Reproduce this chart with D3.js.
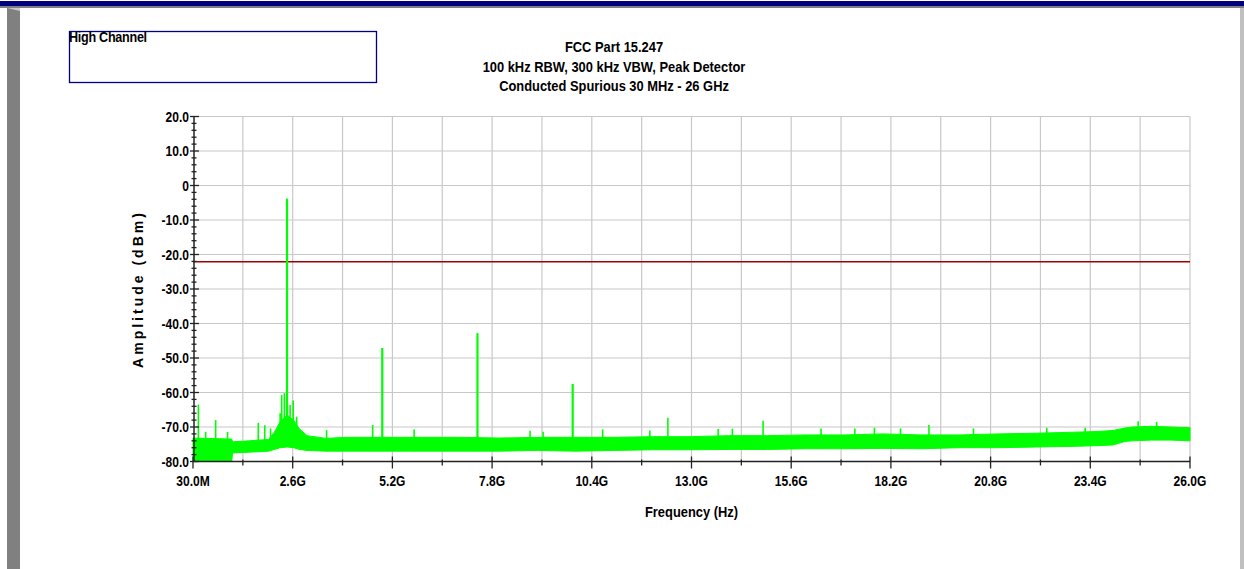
<!DOCTYPE html>
<html>
<head>
<meta charset="utf-8">
<script src="https://cdn.jsdelivr.net/npm/d3@7"></script>
<style>
body { margin: 0; background: #fff; overflow: hidden; }
text { font-family: "Liberation Sans", Arial, sans-serif; font-weight: bold; fill: #000; }
</style>
</head>
<body>
<div id="chart"></div>
<script>
// ---- data ----
var titleLines = ["FCC Part 15.247", "100 kHz RBW, 300 kHz VBW, Peak Detector", "Conducted Spurious 30 MHz - 26 GHz"];
var legendLabel = "High Channel";

// frequency axis in GHz
var fStart = 0.03, fStop = 26.0;
var xLabels = ["30.0M", "2.6G", "5.2G", "7.8G", "10.4G", "13.0G", "15.6G", "18.2G", "20.8G", "23.4G", "26.0G"];
var yTicks = [20, 10, 0, -10, -20, -30, -40, -50, -60, -70, -80];
var limitLevel = -22.1;

// noise floor envelope (dBm)
var envFreq = [0.03, 1.04, 1.06, 1.5, 2.0, 2.15, 2.3, 2.48, 2.65, 2.8, 3.0, 3.5, 4.0, 5.0, 6.0, 7.0, 8.0, 9.0, 10.0, 11.0, 12.0, 13.0, 14.0, 15.0, 16.0, 17.0, 18.0, 19.0, 20.0, 21.0, 22.0, 23.0, 23.6, 24.0, 24.3, 24.5, 25.0, 25.5, 26.0];
var envTop = [-73.2, -73.5, -74.3, -74.0, -73.6, -71.5, -68.5, -66.5, -68.0, -70.5, -72.5, -73.3, -73.0, -73.0, -73.0, -73.0, -73.2, -73.0, -73.0, -73.0, -72.8, -72.8, -72.5, -72.5, -72.3, -72.3, -72.0, -72.3, -72.3, -72.0, -71.8, -71.5, -71.3, -71.0, -70.3, -70.0, -69.8, -70.0, -70.2];
var envBot = [-80, -80, -77.5, -77.3, -77.0, -76.5, -76.0, -75.8, -76.0, -76.5, -76.8, -77.0, -77.0, -77.0, -77.0, -77.0, -77.0, -76.8, -77.0, -76.8, -76.6, -76.6, -76.5, -76.5, -76.3, -76.3, -76.2, -76.3, -76.0, -76.0, -75.8, -75.6, -75.4, -75.2, -74.2, -74.0, -73.8, -73.8, -74.0];

// discrete spurs (GHz, peak dBm)
var spikeFreq = [0.17, 0.36, 0.62, 0.93, 1.73, 1.90, 2.05, 2.30, 2.34, 2.41, 2.48, 2.56, 2.64, 2.73, 3.51, 4.71, 4.96, 5.79, 7.44, 8.81, 9.15, 9.92, 10.70, 11.93, 12.40, 13.71, 14.08, 14.88, 16.39, 17.27, 17.78, 18.46, 19.20, 20.36, 22.27, 23.27, 24.65, 25.13];
var spikeTop = [-63.5, -71.4, -68.0, -71.4, -68.8, -69.5, -70.4, -66.0, -60.7, -60.2, -3.8, -63.6, -62.3, -67.0, -70.9, -69.4, -47.1, -70.7, -42.8, -71.1, -71.4, -57.5, -70.7, -71.0, -67.3, -70.6, -70.5, -68.2, -70.4, -70.4, -70.2, -70.4, -69.4, -70.4, -70.2, -70.2, -68.3, -68.5];

// ---- layout ----
var W = 1244, H = 569;
var plot = {left: 193, right: 1190, top: 116.5, bottom: 461.5};
var narrow = 0.86; // horizontal squeeze, the original uses a narrow face

var svg = d3.select("#chart")
    .append("svg")
    .attr("width", W)
    .attr("height", H);

// text squeezed horizontally around its anchor point
function narrowText(sel, x, y, size, anchor, sx) {
    return sel.append("g")
        .attr("transform", "translate(" + x + "," + y + ") scale(" + (sx || narrow) + ",1)")
        .append("text")
        .attr("text-anchor", anchor)
        .attr("font-size", size + "px");
}

// window frame
svg.append("rect").attr("x", 0).attr("y", 1).attr("width", W).attr("height", 5).attr("fill", "#000080");
svg.append("rect").attr("x", 0).attr("y", 6).attr("width", W).attr("height", 2).attr("fill", "#808080");
svg.append("rect").attr("x", 7).attr("y", 8).attr("width", 13).attr("height", H - 8).attr("fill", "#808080");
svg.append("path").attr("d", "M7,8 L20,8 L20,11 Z").attr("fill", "#c8c8c8");
svg.append("rect").attr("x", 1240).attr("y", 8).attr("width", 4).attr("height", H - 8).attr("fill", "#c0c0c0");

var xScale = d3.scaleLinear().domain([fStart, fStop]).range([plot.left, plot.right]);
var yScale = d3.scaleLinear().domain([-80, 20]).range([plot.bottom, plot.top]);

var labelStep = (fStop - fStart) / (xLabels.length - 1);
var labelVals = xLabels.map(function (d, i) { return fStart + i * labelStep; });
var halfVals = d3.range(0, (xLabels.length - 1) * 2 + 1).map(function (i) { return fStart + i * labelStep / 2; });
var minorY = d3.range(-80, 20.1, 2);

// grid
var grid = svg.append("g").attr("class", "grid");
grid.selectAll("line.v")
    .data(halfVals.slice(1))
    .enter().append("line")
    .attr("x1", function (d) { return xScale(d); })
    .attr("x2", function (d) { return xScale(d); })
    .attr("y1", plot.top).attr("y2", plot.bottom)
    .attr("stroke", "#c8c8c8").attr("stroke-width", 1.2);
grid.selectAll("line.h")
    .data(yTicks.slice(0, -1))
    .enter().append("line")
    .attr("x1", plot.left).attr("x2", plot.right)
    .attr("y1", function (d) { return yScale(d); })
    .attr("y2", function (d) { return yScale(d); })
    .attr("stroke", "#c8c8c8").attr("stroke-width", 1.2);

// limit line
svg.append("line")
    .attr("x1", plot.left).attr("x2", plot.right)
    .attr("y1", yScale(limitLevel)).attr("y2", yScale(limitLevel))
    .attr("stroke", "#a00000").attr("stroke-width", 1.5);

// trace
var envData = envFreq.map(function (f, i) { return {f: f, top: envTop[i], bot: envBot[i]}; });
var area = d3.area()
    .x(function (d) { return xScale(d.f); })
    .y0(function (d) { return yScale(d.bot); })
    .y1(function (d) { return yScale(d.top); });

svg.append("path")
    .datum(envData)
    .attr("d", area)
    .attr("fill", "#00ff00")
    .attr("stroke", "#00ff00")
    .attr("stroke-width", 1);

function botAt(f) {
    var i = d3.bisectRight(envFreq, f) - 1;
    i = Math.max(0, Math.min(i, envFreq.length - 2));
    return Math.max(envBot[i], envBot[i + 1]);
}

svg.append("g").selectAll("line")
    .data(spikeFreq.map(function (f, i) { return {f: f, top: spikeTop[i]}; }))
    .enter().append("line")
    .attr("x1", function (d) { return xScale(d.f); })
    .attr("x2", function (d) { return xScale(d.f); })
    .attr("y1", function (d) { return yScale(botAt(d.f)); })
    .attr("y2", function (d) { return yScale(d.top); })
    .attr("stroke", "#00ff00")
    .attr("stroke-width", function (d) { return d.top > -60 ? 2.2 : 1.6; });

// x axis
var xAxisG = svg.append("g").attr("class", "x-axis");
xAxisG.append("line")
    .attr("x1", plot.left).attr("x2", plot.right)
    .attr("y1", plot.bottom).attr("y2", plot.bottom)
    .attr("stroke", "#222").attr("stroke-width", 1.5);
xAxisG.selectAll("line.tick")
    .data(halfVals)
    .enter().append("line")
    .attr("x1", function (d) { return xScale(d); })
    .attr("x2", function (d) { return xScale(d); })
    .attr("y1", function (d, i) { return plot.bottom - (i % 2 ? 2 : 5); })
    .attr("y2", function (d, i) { return plot.bottom + (i % 2 ? 4 : 7); })
    .attr("stroke", "#222").attr("stroke-width", 1.3);
labelVals.forEach(function (v, i) {
    narrowText(xAxisG, xScale(v), 486, 14, "middle").text(xLabels[i]);
});

// y axis
var yAxisG = svg.append("g").attr("class", "y-axis");
yAxisG.append("line")
    .attr("x1", plot.left + 1).attr("x2", plot.left + 1)
    .attr("y1", plot.top).attr("y2", plot.bottom)
    .attr("stroke", "#222").attr("stroke-width", 1.5);
yAxisG.selectAll("line.minor")
    .data(minorY)
    .enter().append("line")
    .attr("x1", function (d) { return plot.left + 1 - (d % 10 === 0 ? 4 : 2.5); })
    .attr("x2", function (d) { return plot.left + 1 + (d % 10 === 0 ? 5 : 2.5); })
    .attr("y1", function (d) { return yScale(d); })
    .attr("y2", function (d) { return yScale(d); })
    .attr("stroke", "#222").attr("stroke-width", 1.3);
yTicks.forEach(function (d) {
    narrowText(yAxisG, 189, yScale(d) + 5, 14, "end").text(d === 0 ? "0" : d.toFixed(1));
});

// axis titles
narrowText(svg, (plot.left + plot.right) / 2, 517, 15, "middle").text("Frequency (Hz)");

svg.append("text")
    .attr("transform", "translate(143," + ((plot.top + plot.bottom) / 2) + ") rotate(-90)")
    .attr("text-anchor", "middle")
    .attr("font-size", "14px")
    .attr("letter-spacing", "3px")
    .text("Amplitude (dBm)");

// titles
titleLines.forEach(function (d, i) {
    narrowText(svg, 614, 52 + i * 19.5, 15, "middle").text(d);
});

// legend box
svg.append("rect")
    .attr("x", 69.5).attr("y", 31.5)
    .attr("width", 307).attr("height", 51)
    .attr("fill", "none")
    .attr("stroke", "#000080").attr("stroke-width", 1.3);
narrowText(svg, 69, 42, 14, "start", 0.9).attr("letter-spacing", "-0.3px").text(legendLabel);
</script>
</body>
</html>
